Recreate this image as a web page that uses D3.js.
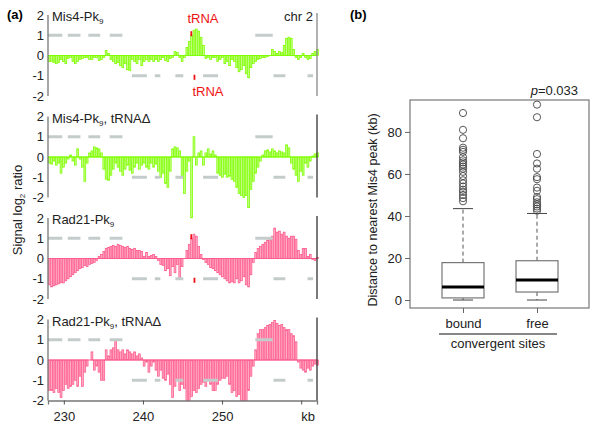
<!DOCTYPE html>
<html>
<head>
<meta charset="utf-8">
<script src="https://d3js.org/d3.v7.min.js"></script>
<style>
  body { margin: 0; background: #fff; }
  svg { font-family: "Liberation Sans", Arial, sans-serif; }
</style>
</head>
<body>
<div id="chart"></div>
<script>
// ---- panel (a) data: log2 ratio per 0.3 kb bin, starting at 228 kb ----
const binStart = 228;
const binKb = 0.3;

const mis4 = [
  -0.3,-0.3,-0.35,-0.4,-0.35, -0.2,-0.3,-0.4,-0.15,-0.1,
  -0.3,-0.4,-0.3,-0.2,-0.15, -0.1,-0.1,-0.2,-0.2,-0.1,
  -0.1,-0.25,-0.2,-0.1,0.25, 0.1,-0.2,-0.3,-0.4,-0.35,
  -0.5,-0.6,-0.4,-0.7,-0.75, -0.2,-0.3,-0.4,-0.2,-0.5,
  -0.3,-0.2,-0.3,-0.2,-0.3, -0.2,-0.3,-0.2,-0.1,-0.25,
  -0.3,-0.15,-0.1,0.2,0.15, -0.1,-0.3,-0.1,0.4,0.7,
  1.0,1.25,1.3,1.2,0.9, 0.5,-0.15,-0.1,-0.2,-0.1,
  -0.1,-0.3,-0.2,-0.1,-0.4, -0.3,-0.5,-0.2,-0.3,-0.6,
  -0.8,-0.7,-0.5,-0.9,-1.1, -0.6,-0.4,-0.3,-0.2,-0.15,
  -0.1,-0.1,-0.05,0.0,0.3, 0.2,0.1,0.2,0.15,0.5,
  0.85,0.9,0.85,0.3,-0.1, -0.2,-0.1,0.1,-0.1,-0.2,
  -0.15,0.1,0.2,0.3
];

const mis4Delta = [
  -0.3,-0.35,-0.2,-0.4,-0.3, -0.8,-0.5,-0.3,-0.1,0.1,
  -0.2,-0.4,0.4,-0.1,-0.5, -1.2,-0.3,0.2,0.3,0.5,
  0.45,0.4,0.2,-0.6,-1.1, -1.15,-0.9,-0.6,-0.3,-0.5,
  -0.7,-0.9,-0.6,-0.4,-0.65, -0.8,-0.5,-0.3,-0.6,-0.4,
  -0.3,-0.5,-0.6,-0.3,-0.5, -0.35,-0.7,-1.0,-0.8,-1.3,
  -1.5,-0.7,0.4,0.5,0.45, 0.3,-0.9,-1.8,-0.7,-0.2,
  -3.0,1.0,-0.4,0.2,0.3, -0.4,0.2,0.4,0.15,0.3,
  0.1,-0.8,-0.9,-1.0,-0.85, -1.0,-0.95,-1.1,-1.2,-1.5,
  -1.8,-1.9,-2.0,-1.9,-2.5, -1.6,-1.2,-0.8,-0.5,-0.2,
  0.1,0.3,0.35,0.25,0.4, 0.3,0.2,0.3,0.25,0.2,
  0.6,0.45,-0.3,-0.6,-0.9, -1.2,-0.7,-0.9,-0.3,-0.5,
  -0.2,0.05,0.15,0.2
];

const rad21 = [
  -1.3,-1.4,-1.35,-1.3,-1.25, -1.2,-1.2,-1.1,-1.0,-0.9,
  -0.8,-0.7,-0.6,-0.5,-0.45, -0.35,-0.4,-0.3,-0.25,-0.2,
  -0.1,0.1,0.2,0.35,0.5, 0.55,0.6,0.65,0.6,0.7,
  0.65,0.6,0.55,0.6,0.5, 0.45,0.5,0.4,0.4,0.35,
  0.1,0.3,0.1,0.15,0.2, 0.1,-0.1,-0.3,-0.35,-0.6,
  -0.5,-0.85,-0.4,-0.7,-0.3, -1.0,-0.4,0.0,0.4,0.7,
  1.0,1.2,1.1,0.6,0.2, -0.05,-0.2,-0.3,-0.45,-0.5,
  -0.6,-0.7,-0.8,-0.9,-1.0, -1.1,-1.2,-1.15,-1.2,-1.0,
  -1.2,-1.1,-0.9,-1.3,-1.4, -0.8,-0.2,0.3,0.5,0.6,
  0.7,0.8,0.9,1.0,1.1, 1.5,1.3,1.35,1.2,1.3,
  1.1,1.0,1.1,1.1,0.95, 0.4,0.2,0.5,0.5,0.1,
  0.2,-0.05,-0.1,0.05
];

const rad21Delta = [
  -1.5,-1.5,-1.6,-1.4,-1.6, -1.85,-1.5,-1.2,-1.4,-1.3,
  -1.2,-1.0,-1.3,-0.8,-1.3, -0.6,-0.3,0.0,0.4,-0.5,
  -0.3,-0.6,-1.0,-1.0,0.5, 0.2,0.5,0.6,1.0,0.5,
  0.4,0.5,0.3,0.5,0.4, 0.3,0.4,0.2,0.3,0.1,
  -0.3,-0.1,-0.6,-0.3,-0.1, -0.5,-0.8,-0.5,-0.9,-1.0,
  -0.7,-1.2,-1.85,-1.3,-1.0, -1.5,-1.2,-1.4,-2.0,-2.0,
  -1.8,-1.5,-1.6,-1.4,-1.2, -1.1,-1.3,-1.0,-1.2,-1.5,
  -1.5,-1.2,-1.0,-0.9,-0.9, -0.8,-1.2,-1.6,-1.5,-1.8,
  -1.7,-2.0,-2.0,-2.0,-1.5, -0.8,-0.3,0.5,1.3,1.5,
  1.5,1.6,1.7,1.75,1.85, 1.95,1.8,1.7,1.75,1.6,
  1.5,1.5,1.3,1.2,0.9, -0.1,-0.4,-0.5,-0.6,-0.4,
  -0.5,-0.3,-0.2,-0.25
];

const trackNames = ["Mis4-Pk", "Mis4-Pk", "Rad21-Pk", "Rad21-Pk"];
const trackSuffix = ["", ", tRNA\u0394", "", ", tRNA\u0394"];
const trackData = [mis4, mis4Delta, rad21, rad21Delta];
const trackHasTRNA = [true, false, true, false];

// genes (kb), top strand drawn at +1, bottom strand at -1
const genesTop = [[228.0, 229.8], [230.5, 232.1], [233.1, 234.6], [235.8, 237.4], [254.2, 256.4]];
const genesBottom = [[238.6, 240.5], [241.5, 242.2], [244.1, 245.1], [247.6, 249.5], [256.5, 258.0], [260.8, 261.5]];
const tRNATop = 246.1;
const tRNABottom = 246.5;

const yTicks = [2, 1, 0, -1, -2];
const xTicks = [230, 240, 250, 260];
const xTickLabels = ["230", "240", "250", ""];

// ---- panel (b) data ----
const groups = ["bound", "free"];
const q1 = [1.0, 3.8];
const medians = [6.2, 9.5];
const q3 = [17.8, 18.7];
const whiskLo = [0, 0];
const whiskHi = [43.5, 41.2];
const outliersBound = [89, 81, 77, 72.5, 71.5, 70.5, 68, 66.5, 65.5, 64.5, 63.5, 62.5, 61, 59, 57, 55.5, 54, 52.5, 51.5, 50, 48.5, 47];
const outliersFree = [93, 87, 69.5, 65, 62.5, 58.5, 57.5, 53.5, 52, 49, 48, 46.5, 45.5, 44.5, 43.5, 42.5];
const boxTicks = [0, 20, 40, 60, 80];

const W = 600, H = 433;
const svg = d3.select("#chart").append("svg").attr("width", W).attr("height", H);

// ================= panel (a) =================
const green = "#7fff00", greenFill = "#c6ff8a";
const pink = "#ff5c8d", pinkFill = "#ffb0c8";
const trackColors = [green, green, pink, pink];
const trackFills = [greenFill, greenFill, pinkFill, pinkFill];

const x = d3.scaleLinear().domain([228, 262]).range([48, 317]);
const barW = x(binStart + binKb) - x(binStart);
const trackTops = [15, 116.5, 218, 319.5];
const trackH = 81;

svg.append("text").attr("x", 7).attr("y", 19)
  .attr("font-size", 13).attr("font-weight", "bold").text("(a)");

trackData.forEach((vals, t) => {
  const top = trackTops[t];
  const y = d3.scaleLinear().domain([-2, 2]).range([top + trackH, top]);
  const g = svg.append("g");

  // bars
  g.append("g").selectAll("rect")
    .data(vals)
    .join("rect")
    .attr("x", (d, i) => x(binStart + i * binKb) + 0.3)
    .attr("width", barW - 0.6)
    .attr("y", d => Math.min(y(d), y(0)))
    .attr("height", d => Math.abs(y(d) - y(0)))
    .attr("fill", trackFills[t])
    .attr("stroke", trackColors[t])
    .attr("stroke-width", 0.8);

  // zero line
  g.append("line")
    .attr("x1", x(228)).attr("x2", x(262))
    .attr("y1", y(0)).attr("y2", y(0))
    .attr("stroke", trackColors[t]).attr("stroke-width", 1);

  // genes
  g.append("g").selectAll("line")
    .data(genesTop)
    .join("line")
    .attr("x1", d => x(d[0])).attr("x2", d => x(d[1]))
    .attr("y1", y(1)).attr("y2", y(1))
    .attr("stroke", "#c3cccb").attr("stroke-width", 3);
  g.append("g").selectAll("line")
    .data(genesBottom)
    .join("line")
    .attr("x1", d => x(d[0])).attr("x2", d => x(d[1]))
    .attr("y1", y(-1)).attr("y2", y(-1))
    .attr("stroke", "#c3cccb").attr("stroke-width", 3);

  // tRNA markers
  if (trackHasTRNA[t]) {
    g.append("rect").attr("x", x(tRNATop) - 0.8).attr("width", 1.8)
      .attr("y", y(1.2)).attr("height", y(0.95) - y(1.2)).attr("fill", "#ee1111");
    g.append("rect").attr("x", x(tRNABottom) - 0.8).attr("width", 1.8)
      .attr("y", y(-0.95)).attr("height", y(-1.2) - y(-0.95)).attr("fill", "#ee1111");
  }

  // left / right axis lines
  g.append("line").attr("x1", x(228)).attr("x2", x(228))
    .attr("y1", top).attr("y2", top + trackH)
    .attr("stroke", "#777").attr("stroke-width", 1.3);
  g.append("line").attr("x1", x(262)).attr("x2", x(262))
    .attr("y1", top - 2).attr("y2", top + trackH)
    .attr("stroke", t === 0 ? "#888" : "#333").attr("stroke-width", 1.3);

  // y tick labels
  g.append("g").selectAll("text")
    .data(yTicks)
    .join("text")
    .attr("x", 44)
    .attr("y", d => y(d))
    .attr("dy", "0.36em")
    .attr("text-anchor", "end")
    .attr("font-size", 13)
    .attr("fill", "#222")
    .text(d => d);

  // track label
  const lab = g.append("text").attr("x", 52).attr("y", top + 6)
    .attr("font-size", 13).attr("fill", "#222");
  lab.append("tspan").text(trackNames[t]);
  lab.append("tspan").attr("font-size", 8).attr("dy", 3).text("9");
  lab.append("tspan").attr("dy", -3).text(trackSuffix[t]);
});

// chr label and tRNA labels on the first track
svg.append("text").attr("x", 313).attr("y", 21).attr("text-anchor", "end")
  .attr("font-size", 13).attr("fill", "#222").text("chr 2");
svg.append("text").attr("x", 203).attr("y", 23).attr("text-anchor", "middle")
  .attr("font-size", 13).attr("fill", "#ee1111").text("tRNA");
svg.append("text").attr("x", 208).attr("y", 96).attr("text-anchor", "middle")
  .attr("font-size", 13).attr("fill", "#ee1111").text("tRNA");

// bottom x axis
const xAxisY = trackTops[3] + trackH;
const xAxis = svg.append("g").attr("transform", `translate(0,${xAxisY})`)
  .call(d3.axisBottom(x).tickValues(xTicks).tickSize(4).tickFormat((d, i) => xTickLabels[i]));
xAxis.select(".domain").attr("stroke", "#777").attr("stroke-width", 1.3);
xAxis.selectAll(".tick line").attr("stroke", "#555");
xAxis.selectAll(".tick text").attr("font-size", 13).attr("fill", "#222")
  .attr("font-family", "Liberation Sans, Arial, sans-serif").attr("dy", "1.05em");
svg.append("text").attr("x", 308).attr("y", 421).attr("text-anchor", "middle")
  .attr("font-size", 13).attr("fill", "#222").text("kb");

// y label
const yl = svg.append("text")
  .attr("transform", "translate(22,210) rotate(-90)")
  .attr("text-anchor", "middle").attr("font-size", 13).attr("fill", "#222");
yl.append("tspan").text("Signal log");
yl.append("tspan").attr("font-size", 8).attr("dy", 3).text("2");
yl.append("tspan").attr("dy", -3).text(" ratio");

// ================= panel (b) =================
svg.append("text").attr("x", 350).attr("y", 19)
  .attr("font-size", 13).attr("font-weight", "bold").text("(b)");

const bx = d3.scalePoint().domain(groups).range([463, 537]);
const by = d3.scaleLinear().domain([-3.8, 95.2]).range([308, 100]);
const boxW = 42;
const frame = { x0: 410, x1: 589, y0: 100, y1: 308 };

svg.append("rect")
  .attr("x", frame.x0).attr("y", frame.y0)
  .attr("width", frame.x1 - frame.x0).attr("height", frame.y1 - frame.y0)
  .attr("fill", "none").attr("stroke", "#777").attr("stroke-width", 1.2);

const yAxisB = svg.append("g").attr("transform", `translate(${frame.x0},0)`)
  .call(d3.axisLeft(by).tickValues(boxTicks).tickSize(5).tickPadding(3));
yAxisB.select(".domain").remove();
yAxisB.selectAll(".tick line").attr("stroke", "#666");
yAxisB.selectAll(".tick text").attr("font-size", 13).attr("fill", "#222")
  .attr("font-family", "Liberation Sans, Arial, sans-serif");

const xAxisB = svg.append("g").attr("transform", `translate(0,${frame.y1})`)
  .call(d3.axisBottom(bx).tickSize(5).tickPadding(6));
xAxisB.select(".domain").remove();
xAxisB.selectAll(".tick line").attr("stroke", "#666");
xAxisB.selectAll(".tick text").attr("font-size", 13).attr("fill", "#222")
  .attr("font-family", "Liberation Sans, Arial, sans-serif");

groups.forEach((gname, i) => {
  const cx = bx(gname);
  const g = svg.append("g");
  // whiskers
  g.append("line").attr("x1", cx).attr("x2", cx)
    .attr("y1", by(q3[i])).attr("y2", by(whiskHi[i]))
    .attr("stroke", "#555").attr("stroke-dasharray", "4,3");
  g.append("line").attr("x1", cx).attr("x2", cx)
    .attr("y1", by(q1[i])).attr("y2", by(whiskLo[i]))
    .attr("stroke", "#555").attr("stroke-dasharray", "4,3");
  g.append("line").attr("x1", cx - 10).attr("x2", cx + 10)
    .attr("y1", by(whiskHi[i])).attr("y2", by(whiskHi[i])).attr("stroke", "#444");
  g.append("line").attr("x1", cx - 10).attr("x2", cx + 10)
    .attr("y1", by(whiskLo[i])).attr("y2", by(whiskLo[i])).attr("stroke", "#444");
  // box
  g.append("rect").attr("x", cx - boxW / 2).attr("width", boxW)
    .attr("y", by(q3[i])).attr("height", by(q1[i]) - by(q3[i]))
    .attr("fill", "#fff").attr("stroke", "#777").attr("stroke-width", 1.2);
  g.append("line").attr("x1", cx - boxW / 2).attr("x2", cx + boxW / 2)
    .attr("y1", by(medians[i])).attr("y2", by(medians[i]))
    .attr("stroke", "#000").attr("stroke-width", 3);
  // outliers
  g.append("g").selectAll("circle")
    .data(i === 0 ? outliersBound : outliersFree)
    .join("circle")
    .attr("cx", cx).attr("cy", d => by(d)).attr("r", 3.6)
    .attr("fill", "none").attr("stroke", "#444").attr("stroke-width", 0.9);
});

// group underline and caption
svg.append("line").attr("x1", 439).attr("x2", 557).attr("y1", 334).attr("y2", 334)
  .attr("stroke", "#111").attr("stroke-width", 1.2);
svg.append("text").attr("x", 498).attr("y", 348).attr("text-anchor", "middle")
  .attr("font-size", 13).attr("fill", "#222").text("convergent sites");

// p value
const pt = svg.append("text").attr("x", 578).attr("y", 95).attr("text-anchor", "end")
  .attr("font-size", 13).attr("fill", "#222");
pt.append("tspan").attr("font-style", "italic").text("p");
pt.append("tspan").text("=0.033");

// y label (b)
svg.append("text")
  .attr("transform", "translate(377,210) rotate(-90)")
  .attr("text-anchor", "middle").attr("font-size", 12.5).attr("fill", "#222")
  .text("Distance to nearest Mis4 peak (kb)");
</script>
</body>
</html>
